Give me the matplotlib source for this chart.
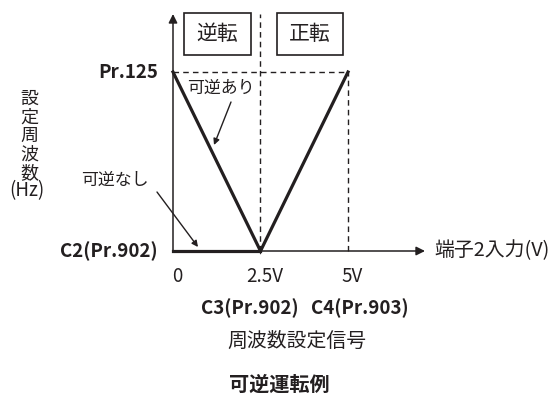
import matplotlib
matplotlib.use("Agg")
import matplotlib.pyplot as plt
from matplotlib.patches import Rectangle

plt.rcParams['font.family'] = ['Noto Sans CJK JP', 'DejaVu Sans']

# data: terminal 2 input (V) vs set frequency (Pr.125 = 1)
volts = [0, 2.5, 5]
freq_rev = [1, 0, 1]          # 可逆あり
volts_norev = [0, 2.5]
freq_norev = [0, 0]           # 可逆なし
tick_vals = [0, 2.5, 5]
tick_labels = ['0', '2.5V', '5V']
bias_labels = ['C3(Pr.902)', 'C4(Pr.903)']
ylabel_chars = ['設', '定', '周', '波', '数']

# pixel layout of the 550x396 picture -> data units
X0, XS = 173, 35.0
Y0, YS = 251, 179.0


def px(x, y):
    return (x - X0) / XS, (Y0 - y) / YS


fig = plt.figure(figsize=(5.5, 3.96), dpi=100)
ax = fig.add_axes([0, 0, 1, 1])
ax.set_xlim(px(0, 0)[0], px(550, 0)[0])
ax.set_ylim(px(0, 396)[1], px(0, 0)[1])
ax.axis('off')

ymax = px(0, 14)[1]
xmax = px(425, 0)[0]
ink = '#231f20'

# dashed guides
dash = dict(color=ink, lw=1.0, linestyle=(0, (4, 3)))
ax.plot([0, volts[-1]], [1, 1], **dash)
ax.plot([volts[1], volts[1]], [0, ymax], **dash)
ax.plot([volts[-1], volts[-1]], [0, 1], **dash)

# axes with arrows
arr = dict(arrowstyle='-|>', lw=1.1, color=ink, mutation_scale=13,
           shrinkA=0, shrinkB=0)
ax.annotate('', xy=(0, ymax), xytext=(0, 0), arrowprops=arr)
ax.annotate('', xy=(xmax, 0), xytext=(0, 0), arrowprops=arr)

# characteristic lines
ax.plot(volts, freq_rev, color=ink, lw=2.3, solid_joinstyle='miter',
        zorder=4)
ax.plot(volts_norev, freq_norev, color=ink, lw=2.3, zorder=4)

# boxes
for (l, r), txt in [((184, 251), '逆転'), ((277, 343), '正転')]:
    x1, y1 = px(l, 55)
    x2, y2 = px(r, 13)
    ax.add_patch(Rectangle((x1, y1), x2 - x1, y2 - y1, fill=False,
                           lw=1.2, ec=ink))
    ax.text((x1 + x2) / 2, (y1 + y2) / 2, txt, ha='center', va='center',
            fontsize=15, color=ink)

# y side labels
ax.text(*px(158, 72), 'Pr.125', ha='right', va='center', fontsize=13.5,
        fontweight='bold', color=ink)
ax.text(*px(158, 251), 'C2(Pr.902)', ha='right', va='center', fontsize=13.5,
        fontweight='bold', color=ink)
for i, ch in enumerate(ylabel_chars):
    ax.text(*px(29, 99 + 18.5 * i), ch, ha='center', va='center',
            fontsize=13, color=ink)
ax.text(*px(27, 191), '(Hz)', ha='center', va='center', fontsize=13.5,
        color=ink)

# x tick labels
for v, lab in zip(tick_vals, tick_labels):
    ax.text(v + 0.12, px(0, 276)[1], lab, ha='center', va='center',
            fontsize=13.5, color=ink)
ax.text(*px(250, 308), bias_labels[0], ha='center', va='center',
        fontsize=13.5, fontweight='bold', color=ink)
ax.text(*px(360, 308), bias_labels[1], ha='center', va='center',
        fontsize=13.5, fontweight='bold', color=ink)

ax.text(*px(434, 251), '端子2入力(V)', ha='left', va='center', fontsize=14.3,
        color=ink)
ax.text(*px(297, 341), '周波数設定信号', ha='center', va='center',
        fontsize=14.3, color=ink)
ax.text(*px(279, 384), '可逆運転例', ha='center', va='center', fontsize=14.5,
        fontweight='bold', color=ink)

# callouts
ax.text(*px(221, 88), '可逆あり', ha='center', va='center', fontsize=12.2,
        color=ink)
ax.text(*px(115, 180), '可逆なし', ha='center', va='center', fontsize=12.2,
        color=ink)
small = dict(arrowstyle='-|>', lw=1.0, color=ink, mutation_scale=9,
             shrinkA=0, shrinkB=0)
ax.annotate('', xy=px(214, 145), xytext=px(231, 102), arrowprops=small)
ax.annotate('', xy=px(198, 247), xytext=px(157, 192), arrowprops=small)

fig.savefig('out.png', dpi=100)
